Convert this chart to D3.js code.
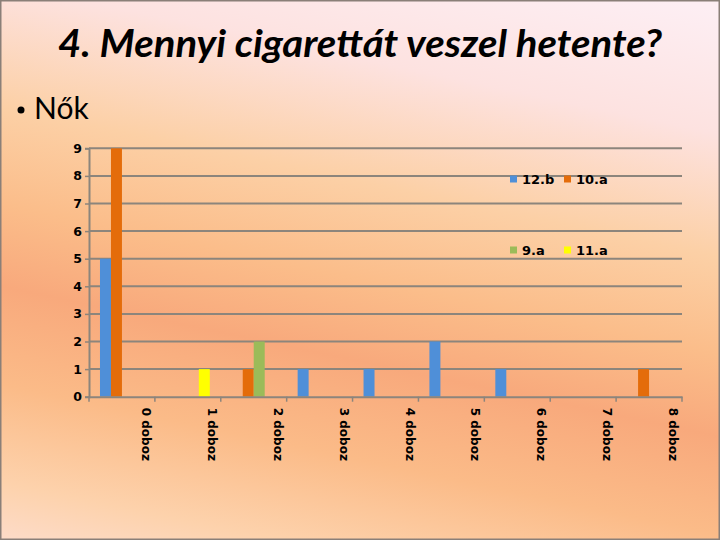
<!DOCTYPE html>
<html><head><meta charset="utf-8">
<script src="https://cdn.jsdelivr.net/npm/d3@7"></script>
<style>html,body{margin:0;padding:0;}svg{display:block;}</style>
</head><body>
<script>
const categories = ["0 doboz","1 doboz","2 doboz","3 doboz","4 doboz","5 doboz","6 doboz","7 doboz","8 doboz"];
const seriesNames = ["12.b","10.a","9.a","11.a"];
const seriesColors = ["#4f8fd8","#e46c0a","#9bbb59","#ffff00"];
const values12b = [5,0,0,1,1,2,1,0,0];
const values10a = [9,0,1,0,0,0,0,0,1];
const values9a  = [0,0,2,0,0,0,0,0,0];
const values11a = [0,1,0,0,0,0,0,0,0];
const yTicks = [0,1,2,3,4,5,6,7,8,9];
const titleText = "4. Mennyi cigarettát veszel hetente?";
const bulletText = "Nők";

const seriesValues = [values12b, values10a, values9a, values11a];
const W = 720, H = 540;
const svg = d3.select("body").append("svg").attr("width", W).attr("height", H);

// background gradient
const defs = svg.append("defs");
const g = defs.append("linearGradient").attr("id","bg").attr("gradientUnits","userSpaceOnUse")
  .attr("x1",442).attr("y1",-47).attr("x2",278).attr("y2",737);
[[0,"#fdeef3"],[0.15,"#fde2e0"],[0.3,"#fcd0a6"],[0.42,"#fbbd8a"],[0.52,"#f8a97c"],[0.64,"#fbbb88"],[0.76,"#fdd2ac"],[0.88,"#fde2dc"],[1,"#fde8ec"]]
  .forEach(([o,c]) => g.append("stop").attr("offset",o).attr("stop-color",c));
svg.append("rect").attr("width",W).attr("height",H).attr("fill","url(#bg)");
svg.append("rect").attr("x",0.75).attr("y",0.75).attr("width",W-1.5).attr("height",H-1.5)
  .attr("fill","none").attr("stroke","#8a7f78").attr("stroke-width",1.5);

// title
svg.append("text").attr("x",360).attr("y",57).attr("text-anchor","middle")
  .attr("font-family","Lato, 'Open Sans', sans-serif").attr("font-weight","bold").attr("font-style","italic")
  .attr("font-size",38).attr("textLength",604).attr("lengthAdjust","spacingAndGlyphs")
  .attr("fill","#000").text(titleText);

// bullet
svg.append("circle").attr("cx",21).attr("cy",110).attr("r",3.5).attr("fill","#000");
svg.append("text").attr("x",34).attr("y",119).attr("font-family","Lato, sans-serif")
  .attr("font-size",30).attr("fill","#000").text(bulletText);

// chart
const plotLeft = 89, plotRight = 682, plotTop = 148.3, plotBottom = 396.7;
const x0 = d3.scaleBand().domain(categories).range([plotLeft, plotRight]).padding(0);
const bw = x0.bandwidth();
const x1 = d3.scaleBand().domain(seriesNames).range([bw/6, bw*5/6]).padding(0);
const y = d3.scaleLinear().domain([0,9]).range([plotBottom, plotTop]);
const gridColor = "#8c857c";

// gridlines
svg.append("g").selectAll("line").data(yTicks.filter(d=>d>0)).join("line")
  .attr("x1",plotLeft).attr("x2",plotRight).attr("y1",d=>y(d)).attr("y2",d=>y(d))
  .attr("stroke",gridColor).attr("stroke-width",2);

// y axis
const yAxis = svg.append("g").attr("transform",`translate(${plotLeft},0)`)
  .call(d3.axisLeft(y).tickValues(yTicks).tickSize(4).tickPadding(3));
yAxis.select(".domain").attr("stroke",gridColor).attr("stroke-width",2);
yAxis.selectAll(".tick line").attr("stroke",gridColor).attr("stroke-width",1.5);
yAxis.selectAll(".tick text").attr("font-family","'DejaVu Sans', Verdana, sans-serif")
  .attr("font-weight","bold").attr("font-size",12.5).attr("fill","#000");

// bars
const groups = svg.append("g").selectAll("g").data(categories).join("g")
  .attr("transform", d => `translate(${x0(d)},0)`);
groups.selectAll("rect").data((c,i) => seriesNames.map((s,j) => ({s, j, v: seriesValues[j][i]})))
  .join("rect")
  .attr("x", d => x1(d.s)).attr("width", x1.bandwidth())
  .attr("y", d => y(d.v)).attr("height", d => plotBottom - y(d.v))
  .attr("fill", d => seriesColors[d.j]);

// x axis
const xAxis = svg.append("g").attr("transform",`translate(0,${plotBottom})`)
  .call(d3.axisBottom(x0).tickSize(0).tickFormat(""));
xAxis.select(".domain").attr("stroke",gridColor).attr("stroke-width",2);
const boundaries = categories.map(c => x0(c)).concat([plotRight]);
svg.append("g").selectAll("line").data(boundaries).join("line")
  .attr("x1",d=>d).attr("x2",d=>d).attr("y1",plotBottom).attr("y2",plotBottom+5)
  .attr("stroke",gridColor).attr("stroke-width",1.5);
svg.append("g").selectAll("text").data(categories).join("text")
  .attr("transform", d => `translate(${x0(d)+bw/2+20},${plotBottom+11}) rotate(90)`)
  .attr("font-family","'DejaVu Sans', Verdana, sans-serif").attr("font-weight","bold")
  .attr("font-size",12).attr("fill","#000").attr("text-anchor","start")
  .text(d => d);

// legend
const legendPos = [[510,179],[564,179],[510,250],[564,250]];
const leg = svg.append("g").selectAll("g").data(seriesNames).join("g")
  .attr("transform",(d,i)=>`translate(${legendPos[i][0]},${legendPos[i][1]})`);
leg.append("rect").attr("x",0).attr("y",-3.5).attr("width",7).attr("height",7)
  .attr("fill",(d,i)=>seriesColors[i]);
leg.append("text").attr("x",12).attr("y",5)
  .attr("font-family","'DejaVu Sans', Verdana, sans-serif").attr("font-weight","bold")
  .attr("font-size",13).attr("fill","#000").text(d=>d);
</script>
</body></html>
